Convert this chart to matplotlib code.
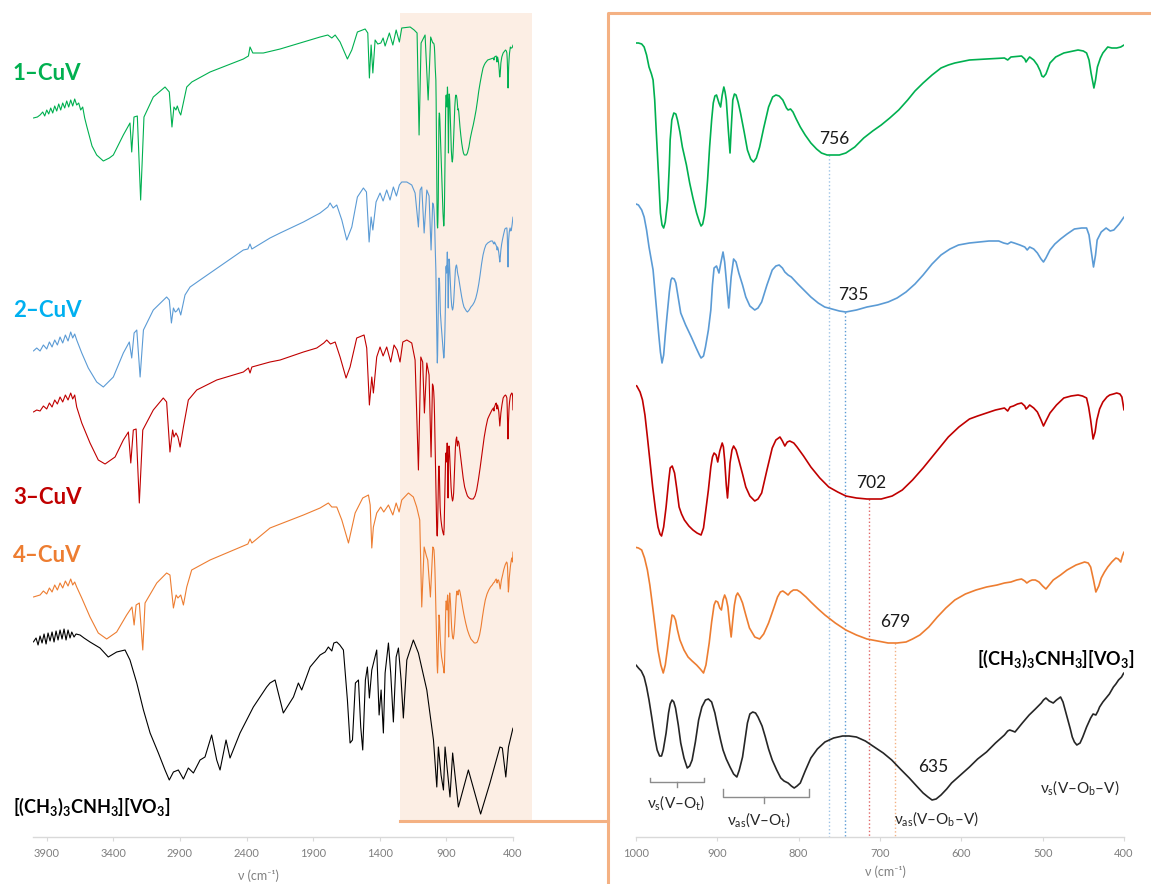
import matplotlib

matplotlib.use("Agg")
import matplotlib.pyplot as plt
import numpy as np
from matplotlib.lines import Line2D
from matplotlib.patches import Rectangle

plt.rcParams["font.family"] = ["Lato", "DejaVu Sans"]
plt.rcParams["mathtext.fontset"] = "custom"
plt.rcParams["mathtext.rm"] = "Lato"
plt.rcParams["mathtext.it"] = "Lato:italic"
plt.rcParams["mathtext.bf"] = "Lato:bold"
plt.rcParams["mathtext.fallback"] = "stixsans"

# ---- spectra -----------------------------------------------------------
# y values are stacked transmittance (a.u., plotted downward = absorption)

# 1-CuV, survey part (4000-1000 cm-1)
cuv1_sv_wn = [4000, 3970, 3950, 3930, 3915, 3900, 3885, 3870, 3855, 3840, 3825, 3810, 3795, 3780,
              3765, 3750, 3735, 3720, 3705, 3690, 3675, 3660, 3645, 3630, 3615, 3600, 3560, 3525,
              3475, 3430, 3400, 3325, 3275, 3262, 3245, 3220, 3195, 3170, 3100, 3012, 2980, 2960,
              2945, 2930, 2920, 2905, 2894, 2870, 2849, 2811, 2674, 2424, 2386, 2374, 2353, 2274,
              2148, 1973, 1848, 1790, 1760, 1735, 1698, 1643, 1610, 1568, 1510, 1490, 1478, 1465,
              1452, 1435, 1415, 1392, 1375, 1360, 1345, 1328, 1302, 1277, 1253, 1235, 1172, 1142,
              1120, 1105, 1090, 1060, 1037, 1018]
cuv1_sv_t = [118, 117, 115, 112, 116, 110, 114, 108, 113, 106, 111, 104, 110, 103,
             108, 101, 107, 100, 106, 99, 105, 103, 110, 107, 118, 126, 146, 155,
             161, 158, 155, 135, 123, 152, 117, 116, 200, 117, 97, 87, 92, 127,
             107, 110, 106, 112, 115, 100, 87, 82, 72, 59, 56, 47, 53, 53,
             49, 42, 37, 35, 38, 35, 42, 59, 50, 32, 29, 33, 78, 45,
             73, 40, 44, 43, 38, 46, 40, 33, 45, 30, 42, 28, 27, 30,
             33, 135, 43, 35, 100, 37]
# 1-CuV, fingerprint part (1000-400 cm-1)
cuv1_fp_wn = [1002, 997, 993, 990, 987, 984, 981, 979, 977, 975, 972, 970, 968, 966, 964, 961, 959,
              958, 956, 953.5, 951, 949, 946, 943, 938, 934, 930, 925.5, 922, 920, 918, 916, 914.6,
              912, 909.5, 907, 905, 903, 901, 898, 896, 894, 892, 890.5, 889, 886.5, 884.4, 883,
              881, 879, 877, 874.5, 871.5, 867, 863, 859, 855.5, 852, 848, 843, 837, 832, 828, 824,
              819.5, 815, 813, 810, 807, 803, 798, 792, 785, 778, 772, 765, 757, 750, 742, 731,
              720, 709, 698.5, 688, 677, 666, 657, 647, 636, 625, 616, 608, 590, 569, 547, 543,
              539, 526, 522, 520.5, 518, 516, 511, 506.5, 503, 501, 499, 496, 491, 484, 474,
              456.5, 450, 446, 443, 440.5, 437, 435, 432.7, 429, 426, 420, 415, 409, 404, 400]
cuv1_fp_t = [43, 43, 44, 47, 55, 67, 74, 80, 100, 133, 180, 213, 225, 228, 222, 200, 165,
             140, 120, 113, 114, 120, 132, 147, 165, 183, 198, 213, 222, 226, 224, 216, 207,
             180, 147, 120, 103, 96, 95, 103, 107, 95, 87, 92, 100, 130, 153, 130,
             100, 94, 95, 102, 113, 132, 150, 159, 162, 158, 147, 128, 107, 97, 95, 96,
             100, 108, 110, 109, 112, 119, 127, 135, 143, 149, 153, 155, 155, 155, 153, 147,
             138, 131, 125, 118, 110, 100, 91, 83, 75, 68, 65, 63, 60, 59, 58, 60,
             57, 56, 59, 62, 59, 57, 60, 65, 71, 76, 77, 74, 63, 57, 53,
             50, 51, 53, 60, 73, 88, 80, 67, 58, 53, 47, 48, 48, 47, 45]

# 2-CuV
cuv2_sv_wn = [4000, 3975, 3950, 3925, 3900, 3880, 3860, 3840, 3820, 3800, 3780, 3760, 3740, 3720,
              3705, 3690, 3675, 3637, 3588, 3525, 3475, 3400, 3325, 3280, 3262, 3244, 3224, 3199,
              3174, 3100, 3000, 2980, 2964, 2949, 2935, 2924, 2910, 2894, 2862, 2824, 2749, 2424,
              2390, 2374, 2360, 2224, 2148, 1973, 1848, 1790, 1773, 1750, 1723, 1685, 1648, 1610,
              1568, 1523, 1500, 1480, 1465, 1452, 1428, 1398, 1375, 1348, 1323, 1298, 1275, 1253,
              1235, 1197, 1160, 1135, 1110, 1097, 1085, 1067, 1047, 1030, 1015]
cuv2_sv_t = [351, 348, 351, 345, 349, 342, 347, 340, 345, 337, 343, 335, 341, 332,
             338, 334, 340, 353, 368, 382, 387, 377, 353, 342, 358, 333, 330, 377,
             330, 310, 297, 300, 323, 308, 312, 311, 308, 315, 295, 287, 280, 250,
             249, 244, 249, 238, 233, 222, 213, 207, 203, 208, 205, 220, 240, 227,
             197, 188, 192, 242, 217, 230, 202, 193, 201, 190, 200, 187, 196, 185,
             182, 182, 185, 193, 227, 190, 187, 233, 190, 196, 250]
cuv2_fp_wn = [1003, 997, 993, 990, 987, 984, 979, 975, 972, 970, 968, 966, 964, 962, 959, 957,
              955.7, 953, 951, 948, 945, 939, 932, 926, 922, 920, 917, 914.6, 911, 908, 906, 904,
              901, 898, 895.5, 893, 891, 889, 886, 884.5, 883, 880, 877, 873.6, 869, 865, 860,
              854, 850, 845.5, 839, 832.5, 828, 824, 820, 817, 813, 809, 801, 793.6, 785, 776,
              768, 759, 750, 742, 729, 716, 703, 690, 679, 668, 657, 647, 636, 625, 614, 603.5,
              590, 578, 566, 554, 548, 543, 539, 535, 528, 522, 519, 516, 511, 506.5, 502, 499,
              496, 491, 485, 478, 470, 461, 452, 446, 443, 440.5, 437.5, 435, 433, 428, 422, 417,
              412.5, 406, 400]
cuv2_fp_t = [203, 205, 210, 217, 230, 247, 270, 307, 335, 352, 363, 355, 335, 317, 292, 280,
             278, 279, 283, 298, 313, 325, 337, 348, 355, 358, 356, 347, 330, 310, 285, 268,
             266, 273, 262, 252, 262, 280, 308, 292, 277, 259, 262, 273, 285, 297, 306,
             310, 308, 302, 285, 270, 266, 265, 268, 272, 275, 277, 284, 290, 297, 303,
             307, 309, 311, 312, 310, 307, 305, 302, 298, 292, 284, 275, 264, 255, 249, 245,
             243, 242, 241, 241, 243, 244, 242, 243, 245, 247, 250, 247, 249, 253, 259, 262,
             258, 250, 244, 239, 234, 229, 228, 228, 235, 250, 267, 255, 240, 232, 228, 231,
             230, 224, 217]

# 3-CuV
cuv3_sv_wn = [4000, 3975, 3950, 3925, 3900, 3880, 3860, 3840, 3820, 3800, 3780, 3760, 3740, 3720,
              3705, 3690, 3675, 3637, 3575, 3513, 3462, 3387, 3325, 3287, 3269, 3250, 3229, 3205,
              3179, 3100, 3025, 3000, 2975, 2955, 2945, 2930, 2915, 2899, 2874, 2837, 2774, 2624,
              2424, 2386, 2374, 2360, 2224, 2148, 1973, 1873, 1820, 1798, 1770, 1735, 1698, 1653,
              1623, 1573, 1518, 1498, 1478, 1460, 1448, 1423, 1398, 1375, 1348, 1318, 1293, 1270,
              1248, 1227, 1197, 1160, 1135, 1110, 1092, 1078, 1065, 1047, 1030, 1015]
cuv3_sv_t = [412, 410, 411, 406, 409, 403, 407, 400, 404, 397, 402, 395, 400, 393,
             399, 395, 407, 423, 443, 460, 464, 457, 440, 432, 463, 430, 429, 503,
             430, 410, 398, 402, 452, 430, 437, 433, 437, 447, 427, 400, 390, 380,
             372, 368, 373, 367, 362, 360, 352, 348, 343, 340, 344, 342, 357, 378,
             367, 338, 335, 348, 405, 377, 393, 357, 347, 356, 347, 362, 345, 350,
             362, 342, 340, 343, 360, 470, 357, 362, 413, 363, 375, 457]
cuv3_fp_wn = [1004.5, 999, 995, 992, 989, 986, 983, 979.5, 976, 973, 970.5, 968.6, 966, 963, 960,
              958, 955.5, 952.6, 950, 947, 944, 940.5, 935, 930, 925, 920, 917, 914.6, 911, 908,
              906, 904, 901.5, 899.5, 897, 894, 892.5, 891, 889, 887.5, 886, 884.4, 882, 880, 877,
              873.6, 869, 865, 860, 854, 850, 845.5, 839, 832.5, 828, 823, 820, 817, 814, 811, 806,
              802, 794, 785, 774, 763, 752, 742, 729, 716, 706, 698.5, 685, 672.6, 660, 647, 632,
              616, 603, 590, 580, 569, 558, 547, 543, 540, 536, 531, 526, 522, 520.5, 518, 516,
              511, 506.5, 502, 499, 496, 491, 483, 474, 465, 456.5, 451, 446, 443.5, 441, 438,
              435.5, 433.4, 430, 426, 421, 417.6, 413, 409, 405, 402.6, 400]
cuv3_fp_t = [384, 386, 392, 400, 415, 437, 460, 487, 510, 527, 534, 536, 527, 507, 482,
             468, 466, 473, 488, 507, 514, 520, 526, 530, 533, 535, 528, 513, 490, 467,
             457, 453, 455, 462, 451, 443, 447, 460, 485, 498, 482, 463, 450, 446, 450,
             460, 474, 487, 496, 501, 499, 493, 470, 448, 440, 437, 441, 446, 442, 441, 443,
             447, 456, 467, 478, 487, 492, 496, 498, 499, 499, 499, 496, 490, 480, 468, 453,
             437, 427, 419, 416, 413, 410, 408, 411, 407, 406, 404, 403, 406, 409, 407, 405,
             408, 412, 420, 426, 421, 413, 405, 398, 396, 395, 396, 398, 407, 420, 439,
             432, 420, 409, 402, 397, 395, 394, 393, 394, 397, 410]

# 4-CuV
cuv4_sv_wn = [4000, 3975, 3950, 3925, 3900, 3880, 3860, 3840, 3820, 3800, 3780, 3760, 3740, 3720,
              3705, 3690, 3675, 3637, 3575, 3513, 3450, 3375, 3300, 3260, 3244, 3229, 3205, 3179,
              3162, 3074, 3000, 2975, 2949, 2929, 2915, 2894, 2874, 2849, 2812, 2674, 2424, 2390,
              2374, 2360, 2224, 1973, 1848, 1786, 1760, 1723, 1685, 1635, 1585, 1528, 1485, 1472,
              1460, 1448, 1423, 1393, 1370, 1335, 1302, 1277, 1255, 1235, 1185, 1148, 1123, 1100,
              1085, 1067, 1050, 1040, 1020]
cuv4_sv_t = [597, 596, 595, 591, 594, 588, 592, 585, 590, 583, 588, 581, 586, 579,
             585, 582, 587, 598, 617, 633, 639, 632, 615, 607, 625, 605, 603, 650,
             603, 583, 573, 575, 608, 595, 598, 595, 605, 587, 570, 560, 546, 544,
             539, 543, 528, 515, 508, 503, 507, 507, 520, 543, 513, 498, 495, 505,
             548, 527, 513, 507, 512, 505, 515, 503, 512, 500, 493, 497, 507, 520,
             607, 547, 556, 560, 597]
cuv4_fp_wn = [1002, 997, 993, 989.5, 986, 983, 979.5, 976, 973, 969.5, 966.5, 964, 961, 958, 955.7,
              953.5, 951.4, 949, 946, 941, 936, 931, 925.5, 921, 917, 914, 910, 907, 904, 902,
              899.5, 897, 895, 893, 891, 889, 887, 885, 883, 881, 879, 877, 875, 872, 869, 865,
              860.5, 854, 848, 843, 837, 831, 826, 822.5, 819.5, 816, 813, 810, 806.5, 802, 798,
              791, 785, 776, 767.7, 755, 742, 729, 716, 703, 690, 679, 668, 660, 651, 640, 629.5,
              619, 608, 595, 582, 569, 556, 547, 539, 532, 526, 522, 519.5, 516, 513, 509, 504.5,
              500, 496, 492, 487, 478, 470, 459, 448.5, 444, 441, 437.5, 434.6, 431, 428, 424,
              420, 415, 410, 407, 404, 402, 400]
cuv4_fp_t = [547, 548, 550, 558, 570, 585, 607, 630, 650, 665, 673, 665, 647, 628, 615,
             616, 620, 630, 640, 650, 657, 661, 665, 669, 673, 665, 643, 622, 605, 601,
             602, 608, 610, 600, 595, 599, 607, 623, 637, 620, 605, 596, 593, 597, 603, 615,
             628, 637, 639, 634, 623, 609, 597, 592, 591, 593, 595, 592, 590, 590, 592,
             597, 602, 609, 615, 623, 630, 635, 639, 641, 643, 643, 642, 639, 635, 627, 617,
             608, 600, 594, 590, 587, 585, 583, 582, 580, 579, 581, 583, 581, 580, 580, 582,
             586, 589, 585, 580, 575, 570, 565, 562, 563, 567, 580, 592, 586, 578, 572,
             567, 562, 558, 559, 562, 556, 552]

# [(CH3)3CNH3][VO3], survey panel (full range) and zoom panel
tba_sv_wn = [4000, 3980, 3965, 3950, 3935, 3920, 3905, 3890, 3875, 3860, 3845, 3830, 3815, 3800,
             3785, 3770, 3755, 3740, 3725, 3712, 3695, 3680, 3650, 3620, 3575, 3500, 3438, 3375,
             3312, 3275, 3224, 3174, 3124, 3062, 3012, 2980, 2949, 2912, 2874, 2837, 2799, 2749,
             2712, 2662, 2624, 2599, 2554, 2524, 2449, 2349, 2249, 2224, 2186, 2124, 2048, 2011,
             1986, 1923, 1848, 1810, 1786, 1760, 1745, 1723, 1700, 1673, 1643, 1623, 1605, 1583,
             1560, 1543, 1528, 1508, 1493, 1478, 1460, 1423, 1405, 1390, 1373, 1360, 1335, 1318,
             1298, 1277, 1260, 1240, 1223, 1197, 1148, 1110, 1047, 997, 972, 960, 940, 922, 910,
             873, 853, 810, 735, 643, 573, 498, 480, 454, 434, 400]
tba_sv_t = [642, 638, 645, 636, 643, 634, 644, 633, 641, 632, 642, 631, 640, 630,
            639, 629, 640, 630, 638, 632, 637, 634, 635, 638, 642, 648, 657, 652,
            650, 660, 683, 710, 733, 753, 770, 780, 772, 770, 779, 768, 773, 760,
            757, 735, 760, 770, 740, 758, 733, 707, 687, 683, 680, 713, 697, 683,
            690, 667, 655, 652, 647, 651, 643, 642, 645, 650, 700, 743, 740, 683,
            680, 727, 750, 680, 667, 698, 670, 650, 715, 690, 733, 673, 643, 673,
            722, 657, 648, 680, 718, 660, 640, 653, 690, 740, 787, 747, 775, 790, 747,
            797, 753, 807, 770, 814, 783, 747, 748, 777, 747, 728]
tba_fp_wn = [1000, 997, 993.5, 990, 987, 984, 980.5, 977, 974, 971, 968.6, 966.5, 963, 960, 958,
             955.7, 953.5, 951.4, 948, 945, 941, 937, 934, 931, 927, 923, 919, 914.6, 911, 907,
             903, 899.5, 896, 893, 889, 884.4, 880, 876, 873, 869, 866, 863, 860, 856.5, 853,
             850, 845, 841, 837, 832.5, 827, 822, 818, 813, 809, 805.5, 802, 798, 792, 785, 777,
             767.7, 757, 746, 738, 729, 718, 707, 696, 685.6, 675, 664, 655, 647, 641, 636, 631,
             625, 618, 612, 601, 590, 580, 569, 558, 547, 543, 540.5, 537, 534, 525, 516.6, 509,
             501.7, 499, 496, 492, 487, 483, 478, 475, 470, 466, 463.6, 461, 458, 454, 450.7, 446,
             441, 438, 434.6, 432, 430, 426, 422, 418, 413, 410, 406.7, 403, 400.3]
tba_fp_t = [665, 668, 671, 677, 687, 700, 718, 737, 750, 756, 756, 750, 733, 713, 704,
            700, 702, 708, 725, 743, 758, 768, 766, 760, 742, 720, 707, 700, 699, 702,
            713, 727, 740, 750, 759, 767, 774, 777, 770, 757, 740, 723, 714, 712, 713,
            717, 726, 737, 749, 760, 770, 778, 781, 783, 786, 788, 786, 783, 771, 758, 749,
            742, 738, 736, 736, 737, 741, 747, 753, 760, 769, 778, 786, 793, 797, 800, 799,
            795, 789, 783, 775, 767, 759, 752, 743, 735, 731, 730, 731, 732, 723, 715, 709,
            703, 700, 698, 701, 703, 700, 697, 702, 717, 729, 737, 742, 745, 743, 737, 727,
            718, 714, 715, 711, 707, 702, 698, 694, 687, 684, 680, 677, 673]

series_labels = ["1–CuV", "2–CuV", "3–CuV", "4–CuV"]
formula = r"$\mathbf{[(CH_{3})_{3}CNH_{3}][VO_{3}]}$"

# band positions marked in the zoom panel
band_labels = ["756", "735", "702", "679", "635"]
guide_wn = [763, 743, 714, 682]
assign_labels = [r"$\mathrm{\nu_{s}(V–O_{t})}$", r"$\mathrm{\nu_{as}(V–O_{t})}$",
                 r"$\mathrm{\nu_{as}(V–O_{b}–V)}$", r"$\mathrm{\nu_{s}(V–O_{b}–V)}$"]

survey_ticks = [3900, 3400, 2900, 2400, 1900, 1400, 900, 400]
zoom_ticks = [1000, 900, 800, 700, 600, 500, 400]

colors = ["#00B050", "#5B9BD5", "#C00000", "#ED7D31"]
label_colors = ["#00B050", "#00B0F0", "#C00000", "#ED7D31"]
guide_colors = ["#9DC3E6", "#5B9BD5", "#E06666", "#F4B183"]
frame_color = "#F4B183"
shade_color = "#FCEEE4"

# ---- layout (pixel frame of the 1151 x 884 canvas) ---------------------
W, H = 1151, 884
Y_TOP, Y_BOT = 13, 837


def fx(px):
    return px / W


def fy(py):
    return 1 - py / H


fig = plt.figure(figsize=(W / 100, H / 100), dpi=100)
ax_l = fig.add_axes([fx(33.4), fy(Y_BOT), (513 - 33.4) / W, (Y_BOT - Y_TOP) / H])
ax_r = fig.add_axes([fx(636), fy(Y_BOT), (1124 - 636) / W, (Y_BOT - Y_TOP) / H])


def style_axis(ax, xlim, ticks):
    ax.set_xlim(*xlim)
    ax.set_ylim(Y_BOT, Y_TOP)
    ax.set_facecolor("none")
    for side in ("left", "right", "top"):
        ax.spines[side].set_visible(False)
    ax.spines["bottom"].set_color("#D9D9D9")
    ax.spines["bottom"].set_linewidth(1.0)
    ax.set_yticks([])
    ax.set_xticks(ticks)
    ax.tick_params(axis="x", colors="#D9D9D9", labelcolor="#7F7F7F", length=3, width=0.8,
                   pad=5, labelsize=8)
    ax.set_xlabel("ν (cm⁻¹)", color="#7F7F7F", fontsize=9)
    ax.xaxis.label.set_va("center")


style_axis(ax_l, (4000, 400), survey_ticks)
style_axis(ax_r, (1000, 400), zoom_ticks)
ax_l.xaxis.set_label_coords((258 - 33.4) / (513 - 33.4), -(876 - Y_BOT) / (Y_BOT - Y_TOP))
ax_r.xaxis.set_label_coords(0.511, -(872 - Y_BOT) / (Y_BOT - Y_TOP))

# shaded zoom window on the survey panel
ax_l.add_patch(Rectangle((fx(400), fy(821)), (532 - 400) / W, (821 - 13) / H,
                         transform=fig.transFigure, facecolor=shade_color, edgecolor="none",
                         zorder=0, clip_on=False))
fig.add_artist(Line2D([fx(400), fx(608)], [fy(821), fy(821)], color=frame_color, lw=2.2))
fig.add_artist(Line2D([fx(608), fx(608), fx(1160)], [fy(890), fy(13), fy(13)],
                      color=frame_color, lw=2.2))

surveys = [(cuv1_sv_wn, cuv1_sv_t, cuv1_fp_wn, cuv1_fp_t),
           (cuv2_sv_wn, cuv2_sv_t, cuv2_fp_wn, cuv2_fp_t),
           (cuv3_sv_wn, cuv3_sv_t, cuv3_fp_wn, cuv3_fp_t),
           (cuv4_sv_wn, cuv4_sv_t, cuv4_fp_wn, cuv4_fp_t)]

line_kw = dict(solid_joinstyle="round", solid_capstyle="round")
for (sv_wn, sv_t, fp_wn, fp_t), c in zip(surveys, colors):
    ax_l.plot(sv_wn + fp_wn, sv_t + fp_t, color=c, lw=0.8, zorder=2, **line_kw)
    ax_r.plot(fp_wn, fp_t, color=c, lw=1.2, zorder=3, **line_kw)
ax_l.plot(tba_sv_wn, tba_sv_t, color="black", lw=0.8, zorder=2, **line_kw)
ax_r.plot(tba_fp_wn, tba_fp_t, color="#262626", lw=1.2, zorder=3, **line_kw)

# dotted guides from each band minimum down to the axis
for (sv_wn, sv_t, fp_wn, fp_t), g, gc in zip(surveys, guide_wn, guide_colors):
    y0 = np.interp(g, fp_wn[::-1], fp_t[::-1])
    ax_r.vlines(g, y0, Y_BOT, colors=gc, linestyles=":", lw=1.0, zorder=1)

# band values
band_x = [756, 733, 711, 681, 635]
band_y = [144, 300, 488, 627, 772]
for txt, bx, by in zip(band_labels, band_x, band_y):
    ax_r.text(bx, by, txt, ha="center", va="baseline", fontsize=12.5, color="#1A1A1A")

# assignment brackets
bracket_kw = dict(color="#8C8C8C", lw=1.0)
ax_r.plot([983, 983, 917, 917], [778, 782, 782, 778], **bracket_kw)
ax_r.plot([950, 950], [782, 787], **bracket_kw)
ax_r.plot([893, 893, 787, 787], [789, 797, 797, 789], **bracket_kw)
ax_r.plot([843, 843], [797, 803], **bracket_kw)

assign_x = [951, 849, 631, 454]
assign_y = [808, 825, 824, 793]
for txt, ax_x, ax_y in zip(assign_labels, assign_x, assign_y):
    ax_r.text(ax_x, ax_y, txt, ha="center", va="baseline", fontsize=11, color="#262626")

# series names
label_base = [80, 316.7, 504, 561.7]
for name, c, by in zip(series_labels, label_colors, label_base):
    fig.text(fx(13), fy(by), name, color=c, fontsize=16, fontweight="bold", va="baseline")
fig.text(fx(13), fy(813), formula, color="black", fontsize=13, va="baseline")
fig.text(fx(1134), fy(665), formula, color="black", fontsize=13, va="baseline", ha="right")

fig.savefig("out.png", dpi=100)
